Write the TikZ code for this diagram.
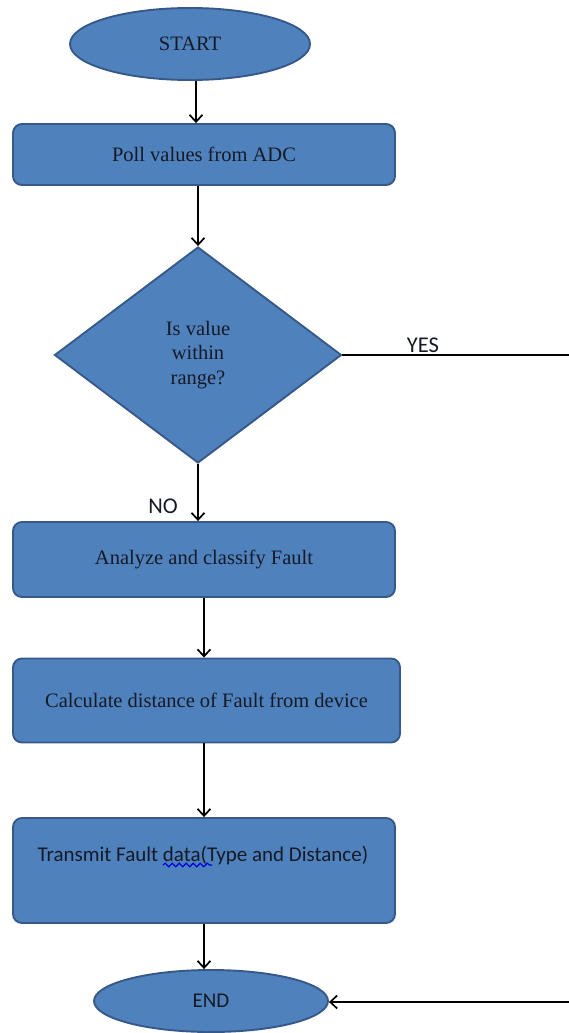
\documentclass[tikz,border=0pt]{standalone}
\usepackage{fontspec}
\setmainfont{Liberation Serif}
\newfontfamily\carlfont{Carlito}
\usetikzlibrary{shapes.geometric,arrows.meta,decorations.pathmorphing}
\definecolor{boxfill}{HTML}{4F81BD}
\definecolor{boxline}{HTML}{36598A}
\definecolor{txt}{HTML}{151A26}
\tikzset{
  shp/.style={fill=boxfill, draw=boxline, line width=1.9pt, text=txt, inner sep=0pt},
  stepbox/.style={shp, rectangle, rounded corners=9pt},
  term/.style={shp, ellipse},
  decis/.style={shp, diamond},
  serif/.style={font=\fontsize{20.5}{24.5}\selectfont},
  sans/.style={font=\carlfont\fontsize{21}{24}\selectfont},
  arr/.style={line width=2pt, -{Straight Barb[length=7pt,width=13pt,line width=1.7pt]}},
  lbl/.style={text=txt, inner sep=0pt, sans}
}
\begin{document}
\begin{tikzpicture}[x=1pt,y=-1pt]
\useasboundingbox (0,0) rectangle (569,1033);
\node[term, serif, minimum width=240pt, minimum height=72pt] (start) at (190,44) {START};
\node[stepbox, serif, minimum width=382pt, minimum height=61pt] (poll) at (204,154.5) {Poll values from ADC};
\node[decis, serif, minimum width=287pt, minimum height=216pt, aspect=1.33, align=center] (dec) at (198,355) {Is value\\within\\range?};
\node[stepbox, serif, minimum width=382pt, minimum height=75pt] (analyze) at (204,559.5) {Analyze and classify Fault};
\node[stepbox, serif, minimum width=387pt, minimum height=84pt] (calc) at (206.5,700.5) {Calculate distance of Fault from device};
\node[stepbox, minimum width=382pt, minimum height=105pt] (trans) at (204,870.5) {};
\node[lbl] (transtext) at (203,856) {Transmit Fault data(Type and Distance)};
\node[term, font=\carlfont\fontsize{21}{24}\selectfont, minimum width=234pt, minimum height=62pt] (end) at (211,1001) {END};
\node[lbl, font=\carlfont\fontsize{22.5}{26}\selectfont] (yes) at (423,345) {YES};
\node[lbl, font=\carlfont\fontsize{22.5}{26}\selectfont] (no) at (163,506) {NO};
\coordinate (c1) at (163,865);
\coordinate (c2) at (212,865);
\draw[blue!85!black, line width=1.2pt, decorate, decoration={snake, amplitude=1.8pt, segment length=7pt}] (c1) -- (c2);
\draw[arr] ([xshift=6pt]start.south) -- ([xshift=6pt]start.south |- poll.north);
\draw[arr] (dec.north |- poll.south) -- (dec.north);
\draw[arr] (dec.south) -- (dec.south |- analyze.north);
\draw[arr] (analyze.south) -- (analyze.south |- calc.north);
\draw[arr] (trans.north |- calc.south) -- (trans.north);
\draw[arr] (trans.south) -- (trans.south |- end.north);
\draw[arr] (dec.east) -- (574,355) -- (574,1002) -- (end.east |- 0,1002);
\end{tikzpicture}
\end{document}
